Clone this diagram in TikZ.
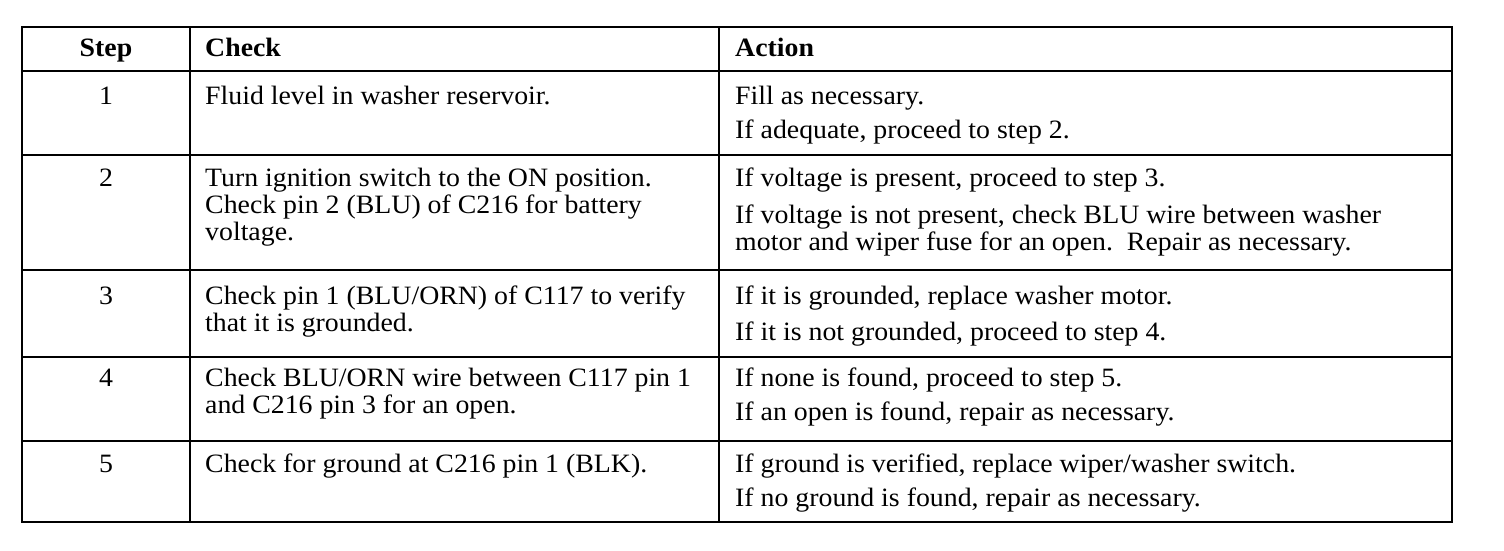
\documentclass[tikz,border=0pt]{standalone}
\usepackage{fontspec}
\setmainfont{Liberation Serif}[FakeStretch=1.05]
\begin{document}
\begin{tikzpicture}[x=1pt,y=-1pt,
  txt/.style={anchor=base west, inner sep=0pt, font=\fontsize{26.5}{27}\selectfont},
  num/.style={anchor=base, inner sep=0pt, font=\fontsize{26.5}{27}\selectfont},
  hdr/.style={anchor=base west, inner sep=0pt, font=\fontsize{26.5}{27}\selectfont\bfseries},
  hdrc/.style={anchor=base, inner sep=0pt, font=\fontsize{26.5}{27}\selectfont\bfseries},
  rule/.style={line width=2.6pt, line cap=rect}]
\useasboundingbox (0,0) rectangle (1504,550);
% grid
\draw[rule] (22,27) rectangle (1452,522);
\foreach \yy in {71,155,270,357,441} \draw[rule] (22,\yy) -- (1452,\yy);
\foreach \xx in {190,719} \draw[rule] (\xx,27) -- (\xx,522);
% header
\node[hdrc] (hstep) at (106,56) {Step};
\node[hdr] (hcheck) at (205,56) {Check};
\node[hdr] (haction) at (735,56) {Action};
% row 1
\node[num] (s1) at (106,104) {1};
\node[txt] (c1a) at (205,104) {Fluid level in washer reservoir.};
\node[txt] (a1a) at (735,104) {Fill as necessary.};
\node[txt] (a1b) at (735,138) {If adequate, proceed to step 2.};
% row 2
\node[num] (s2) at (106,186) {2};
\node[txt] (c2a) at (205,186) {Turn ignition switch to the ON position.};
\node[txt] (c2b) at (205,213) {Check pin 2 (BLU) of C216 for battery};
\node[txt] (c2c) at (205,240) {voltage.};
\node[txt] (a2a) at (735,186) {If voltage is present, proceed to step 3.};
\node[txt] (a2b) at (735,223) {If voltage is not present, check BLU wire between washer};
\node[txt] (a2c) at (735,250) {motor and wiper fuse for an open.\ \ Repair as necessary.};
% row 3
\node[num] (s3) at (106,304) {3};
\node[txt] (c3a) at (205,304) {Check pin 1 (BLU/ORN) of C117 to verify};
\node[txt] (c3b) at (205,331) {that it is grounded.};
\node[txt] (a3a) at (735,304) {If it is grounded, replace washer motor.};
\node[txt] (a3b) at (735,340) {If it is not grounded, proceed to step 4.};
% row 4
\node[num] (s4) at (106,386) {4};
\node[txt] (c4a) at (205,386) {Check BLU/ORN wire between C117 pin 1};
\node[txt] (c4b) at (205,413) {and C216 pin 3 for an open.};
\node[txt] (a4a) at (735,386) {If none is found, proceed to step 5.};
\node[txt] (a4b) at (735,420) {If an open is found, repair as necessary.};
% row 5
\node[num] (s5) at (106,472) {5};
\node[txt] (c5a) at (205,472) {Check for ground at C216 pin 1 (BLK).};
\node[txt] (a5a) at (735,472) {If ground is verified, replace wiper/washer switch.};
\node[txt] (a5b) at (735,506) {If no ground is found, repair as necessary.};
\end{tikzpicture}
\end{document}
